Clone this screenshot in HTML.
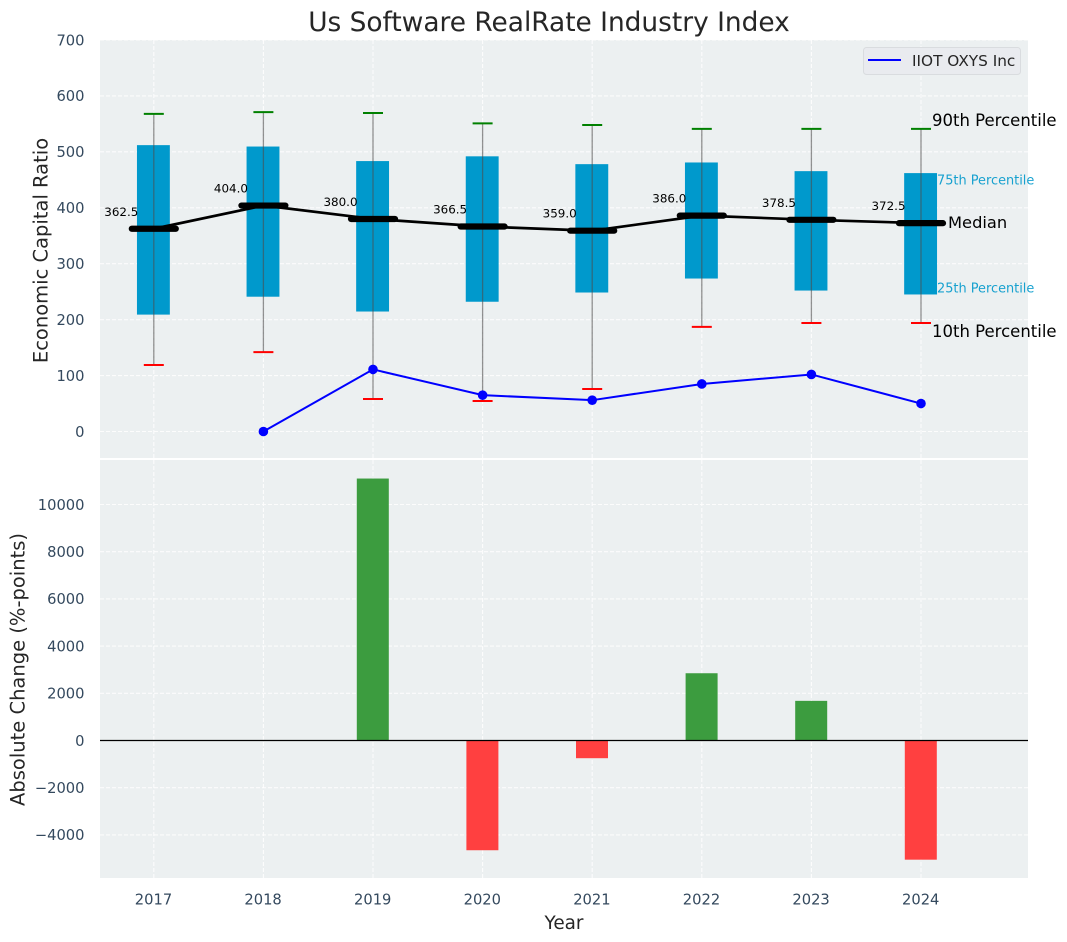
<!DOCTYPE html>
<html>
<head>
<meta charset="utf-8">
<title>Us Software RealRate Industry Index</title>
<style>
html,body{margin:0;padding:0;background:#fff;width:1067px;height:942px;overflow:hidden}
svg{display:block}
text{font-family:"DejaVu Sans","Liberation Sans",sans-serif}
</style>
</head>
<body>
<svg id="chart" xmlns="http://www.w3.org/2000/svg" width="1067" height="942" viewBox="0 0 1067 942"></svg>
<script>
const years = [2017, 2018, 2019, 2020, 2021, 2022, 2023, 2024];
const p90 = [568, 571, 569.5, 551, 548, 541, 541, 541];
const p75 = [512, 509.5, 483.5, 492, 478, 481, 465.5, 462];
const medians = [362.5, 404.0, 380.0, 366.5, 359.0, 386.0, 378.5, 372.5];
const p25 = [209, 241, 214.5, 232, 248.5, 273.5, 252, 245];
const p10 = [119, 142, 58, 54.5, 76, 187, 194, 194];
const companyYears = [2018, 2019, 2020, 2021, 2022, 2023, 2024];
const companyValues = [0, 111, 65, 56, 85, 102, 50];
const changeYears = [2019, 2020, 2021, 2022, 2023, 2024];
const changeValues = [11100, -4650, -750, 2850, 1680, -5050];
const topTicks = [0, 100, 200, 300, 400, 500, 600, 700];
const bottomTicks = [-4000, -2000, 0, 2000, 4000, 6000, 8000, 10000];

const svg = document.getElementById('chart');
const NS = 'http://www.w3.org/2000/svg';
const xScale = v => 153.8 + (v - 2017) * 109.6;
const yTop = v => 431.5 - v * 0.5593;
const yBottom = v => 740.5 - v * 0.0236;
const left = 100, right = 1028;

function make(tag, attrs, content) {
  const el = document.createElementNS(NS, tag);
  for (const k in attrs) el.setAttribute(k, attrs[k]);
  if (content !== undefined) el.textContent = content;
  svg.appendChild(el);
  return el;
}
let el;

el = make('rect', {x: left, y: 40, width: right - left, height: 418, fill: '#ecf0f1'});


el = make('rect', {x: left, y: 460, width: right - left, height: 418, fill: '#ecf0f1'});



const gridStyle = {stroke: '#ffffff', 'stroke-width': 1.1, 'stroke-dasharray': '4 2', opacity: 0.85};
topTicks.forEach(t => {
  el = make('line', {x1: left, x2: right, y1: yTop(t), y2: yTop(t), ...gridStyle});
  
  
  el = make('text', {x: 84.5, y: yTop(t) + 5.3, 'text-anchor': 'end', 'font-size': 14.7, fill: '#34495e'}, String(t));
  
  
});
bottomTicks.forEach(t => {
  el = make('line', {x1: left, x2: right, y1: yBottom(t), y2: yBottom(t), ...gridStyle});
  
  
  el = make('text', {x: 84.5, y: yBottom(t) + 5.3, 'text-anchor': 'end', 'font-size': 14.7, fill: '#34495e'}, String(t).replace('-', '\u2212'));
  
  
});
years.forEach(yr => {
  const px = xScale(yr);
  el = make('line', {x1: px, x2: px, y1: 40, y2: 458, ...gridStyle});
  
  
  el = make('line', {x1: px, x2: px, y1: 460, y2: 878, ...gridStyle});
  
  
  el = make('text', {x: px - 0.3, y: 904.5, 'text-anchor': 'middle', 'font-size': 14.7, fill: '#34495e'}, String(yr));
  
  
});

const boxWidth = 0.3;
years.forEach((yr, i) => {
  const px = xScale(yr);
  const half = boxWidth / 2 * 109.6;
  el = make('rect', {x: px - half - 0.4, y: yTop(p75[i]), width: half * 2, height: yTop(p25[i]) - yTop(p75[i]), fill: '#0099cc'});
  
  
  el = make('line', {x1: px, x2: px, y1: yTop(p90[i]), y2: yTop(p10[i]), stroke: '#4d4d4d', 'stroke-width': 1.3, opacity: 0.6});
  
  
  el = make('line', {x1: px - 10, x2: px + 10, y1: yTop(p90[i]), y2: yTop(p90[i]), stroke: '#008000', 'stroke-width': 2});
  
  
  el = make('line', {x1: px - 10, x2: px + 10, y1: yTop(p10[i]), y2: yTop(p10[i]), stroke: '#ff0000', 'stroke-width': 2});
  
  
});

el = make('polyline', {points: years.map((yr, i) => xScale(yr) + ',' + yTop(medians[i])).join(' '), fill: 'none', stroke: '#000', 'stroke-width': 2.7});


years.forEach((yr, i) => {
  const px = xScale(yr);
  el = make('line', {x1: px - 22, x2: px + 22, y1: yTop(medians[i]), y2: yTop(medians[i]), stroke: '#000', 'stroke-width': 6.2, 'stroke-linecap': 'round'});
  
  
  el = make('text', {x: px - 32.5, y: yTop(medians[i]) - 13, 'text-anchor': 'middle', 'font-size': 11.9, fill: '#000'}, medians[i].toFixed(1));
  
  
});

el = make('polyline', {points: companyYears.map((yr, i) => xScale(yr) + ',' + yTop(companyValues[i])).join(' '), fill: 'none', stroke: '#0000ff', 'stroke-width': 2});


companyYears.forEach((yr, i) => {
  el = make('circle', {cx: xScale(yr), cy: yTop(companyValues[i]), r: 4.8, fill: '#0000ff'});
  
  
});

changeYears.forEach((yr, i) => {
  const v = changeValues[i];
  const y0 = yBottom(Math.max(v, 0)), y1 = yBottom(Math.min(v, 0));
  el = make('rect', {x: xScale(yr) - 16.2, y: y0, width: 32, height: y1 - y0, fill: v >= 0 ? '#3c9c3f' : '#ff4040'});
  
  
});
el = make('line', {x1: left, x2: right, y1: yBottom(0), y2: yBottom(0), stroke: '#000', 'stroke-width': 1.3});



el = make('text', {x: 549, y: 31, 'text-anchor': 'middle', 'font-size': 26.4, fill: '#262626'}, 'Us Software RealRate Industry Index');


el = make('text', {x: 564, y: 929, 'text-anchor': 'middle', 'font-size': 18.4, fill: '#262626'}, 'Year');


el = make('text', {x: 0, y: 0, transform: 'translate(47.5,250.5) rotate(-90)', 'text-anchor': 'middle', 'font-size': 19.5, fill: '#262626'}, 'Economic Capital Ratio');


el = make('text', {x: 0, y: 0, transform: 'translate(24.5,669.5) rotate(-90)', 'text-anchor': 'middle', 'font-size': 19.5, fill: '#262626'}, 'Absolute Change (%-points)');



el = make('text', {x: 932, y: 126, 'font-size': 16.5, fill: '#000'}, '90th Percentile');


el = make('text', {x: 937, y: 184.5, 'font-size': 12.9, fill: '#0099cc', opacity: 0.9}, '75th Percentile');


el = make('text', {x: 948, y: 228, 'font-size': 16.3, fill: '#000'}, 'Median');


el = make('text', {x: 937, y: 292.5, 'font-size': 12.9, fill: '#0099cc', opacity: 0.9}, '25th Percentile');


el = make('text', {x: 932, y: 337, 'font-size': 16.5, fill: '#000'}, '10th Percentile');



el = make('rect', {x: 863.5, y: 47.5, width: 157, height: 27, rx: 3, fill: '#e9ebef', stroke: '#d9dcdf', 'stroke-width': 1});


el = make('line', {x1: 868, x2: 901, y1: 60, y2: 60, stroke: '#0000ff', 'stroke-width': 2});


el = make('text', {x: 912, y: 66, 'font-size': 15.3, fill: '#262626'}, 'IIOT OXYS Inc');


</script>
</body>
</html>
